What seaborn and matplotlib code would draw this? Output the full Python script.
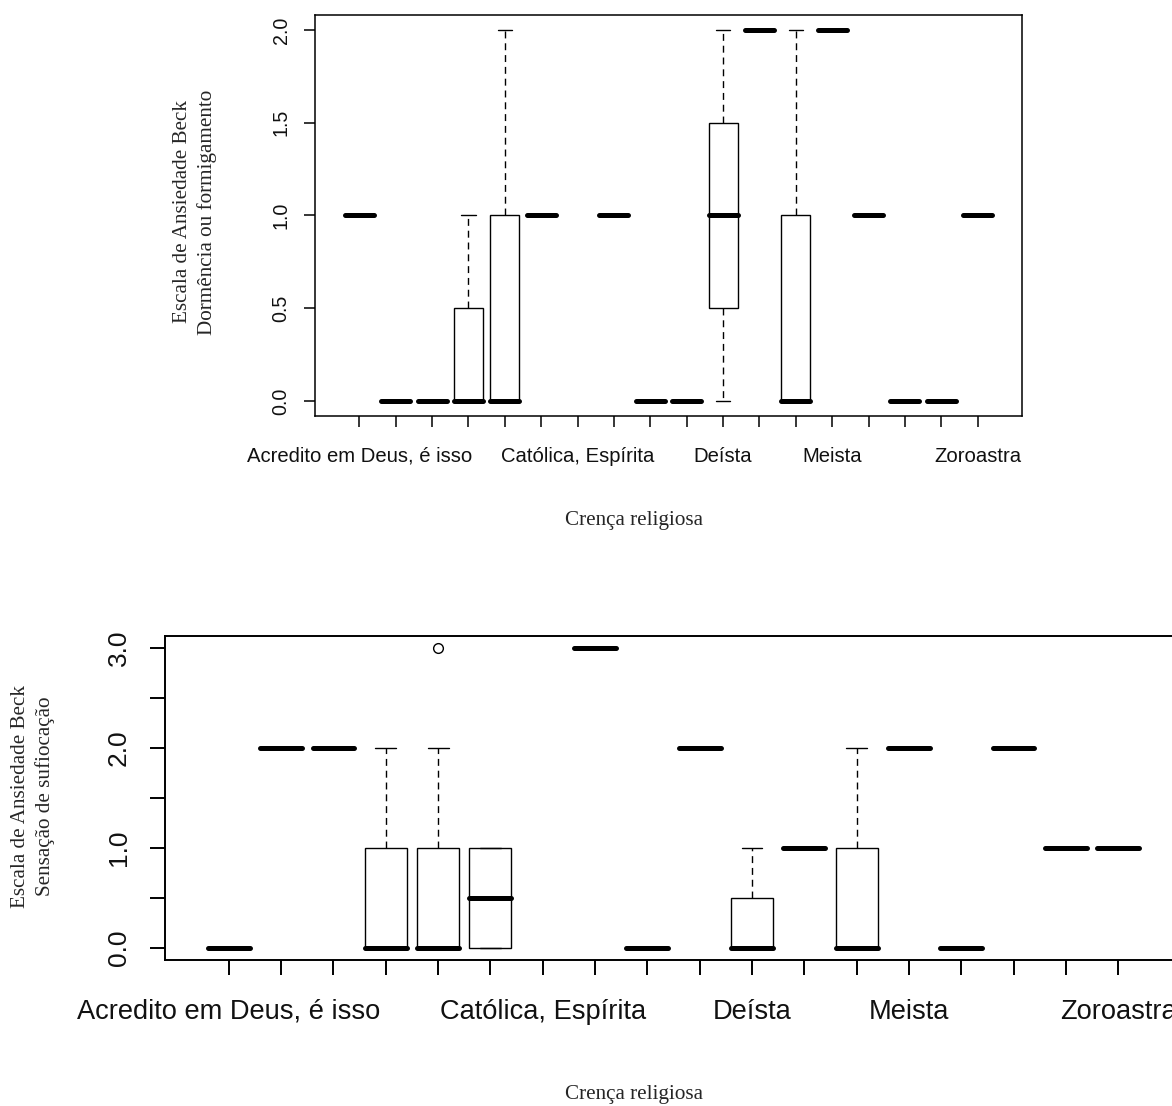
import matplotlib
matplotlib.use("Agg")
import matplotlib.pyplot as plt
import pandas as pd
import seaborn as sns

# ---------------- data ----------------
categories = [1, 2, 3, 4, 5, 6, 7, 8, 9, 10, 11, 12, 13, 14, 15, 16, 17, 18]
tick_labels = ["Acredito em Deus, é isso", "", "", "", "", "",
               "Católica, Espírita", "", "", "", "Deísta", "", "",
               "Meista", "", "", "", "Zoroastra"]

# raw scores per category (top panel: Dormência ou formigamento)
top_values = [[1], [0], [0], [0, 0, 1], [0, 0, 0, 1, 2], [1], [], [1], [0], [0],
              [0, 1, 2], [2], [0, 0, 0, 1, 2], [2], [1], [0], [0], [1]]
# raw scores per category (bottom panel: Sensação de sufocação)
bottom_values = [[0], [2], [2], [0, 0, 0, 1, 2], [0, 0, 0, 0, 0, 1, 1, 2, 3],
                 [0, 0, 1, 1], [], [3], [0], [2], [0, 0, 1], [1],
                 [0, 0, 0, 1, 2], [2], [0], [2], [1], [1]]

top_yticks = [0.0, 0.5, 1.0, 1.5, 2.0]
top_yticklabels = ["0.0", "0.5", "1.0", "1.5", "2.0"]
bottom_yticks = [0.0, 0.5, 1.0, 1.5, 2.0, 2.5, 3.0]
bottom_yticklabels = ["0.0", "", "1.0", "", "2.0", "", "3.0"]

xlabel = "Crença religiosa"
top_ylabel = "Escala de Ansiedade Beck\nDormência ou formigamento"
bottom_ylabel = "Escala de Ansiedade Beck\nSensação de sufiocação"

# ---------------- style ----------------
sns.set_style("white")
plt.rcParams["font.family"] = ["Liberation Sans", "DejaVu Sans"]

W, H = 1172, 1106
fig = plt.figure(figsize=(W / 100, H / 100), dpi=100)


def make_df(values):
    rows = []
    for c, vals in zip(categories, values):
        for v in vals:
            rows.append((c, v))
    return pd.DataFrame(rows, columns=["cat", "val"])


def panel(rect, values, ylim, yticks, yticklabels, fs, ticklen, xpad, ypad, lw):
    ax = fig.add_axes(rect)
    sns.boxplot(data=make_df(values), x="cat", y="val", order=categories, ax=ax,
                width=0.8, color="white", linecolor="black", linewidth=1.0,
                whis=1.5, saturation=1,
                whiskerprops=dict(linestyle=(0, (5, 3.5)), linewidth=1.0),
                capprops=dict(linewidth=1.0),
                medianprops=dict(linewidth=3.6, solid_capstyle="round"),
                flierprops=dict(marker="o", markersize=7, markerfacecolor="none",
                                markeredgecolor="black", markeredgewidth=1.0))
    n = len(categories)
    pad = 0.04 * n
    ax.set_xlim(-0.5 - pad, n - 0.5 + pad)
    ax.set_ylim(*ylim)
    ax.set_xticks(range(n))
    ax.set_xticklabels(tick_labels, fontsize=fs, color="#111111")
    ax.set_yticks(yticks)
    ax.set_yticklabels(yticklabels, fontsize=fs * 0.97, rotation=90, va="center",
                       color="#111111")
    ax.tick_params(axis="x", length=ticklen, width=lw, pad=xpad, direction="out",
                   bottom=True, color="black")
    ax.tick_params(axis="y", length=ticklen * 0.95, width=lw, pad=ypad,
                   direction="out", left=True, color="black")
    ax.set_xlabel("")
    ax.set_ylabel("")
    ax.grid(False)
    for s in ax.spines.values():
        s.set_visible(True)
        s.set_color("black")
        s.set_linewidth(lw)
    return ax


# top panel
panel([315 / W, 1 - 416 / H, (1022 - 315) / W, (416 - 15) / H],
      top_values, (-0.08, 2.08), top_yticks, top_yticklabels,
      fs=14.6, ticklen=8, xpad=14, ypad=10, lw=1.1)
# bottom panel (extends slightly past the right edge, as in the original)
panel([165 / W, 1 - 960 / H, (1182 - 165) / W, (960 - 636) / H],
      bottom_values, (-0.12, 3.12), bottom_yticks, bottom_yticklabels,
      fs=19.6, ticklen=11, xpad=17, ypad=14, lw=1.4)

serif = ["Liberation Serif", "DejaVu Serif"]
fig.text(634 / W, 1 - 520 / H, xlabel, ha="center", va="center",
         fontsize=15.2, family=serif)
fig.text(634 / W, 1 - 1095 / H, xlabel, ha="center", va="center",
         fontsize=15.2, family=serif)
fig.text(195 / W, 1 - 212 / H, top_ylabel, ha="center", va="center",
         rotation=90, multialignment="center", linespacing=1.35,
         fontsize=15.2, family=serif)
fig.text(33 / W, 1 - 796 / H, bottom_ylabel, ha="center", va="center",
         rotation=90, multialignment="center", linespacing=1.35,
         fontsize=15.2, family=serif)

fig.savefig("out.png", dpi=100, facecolor="white")
